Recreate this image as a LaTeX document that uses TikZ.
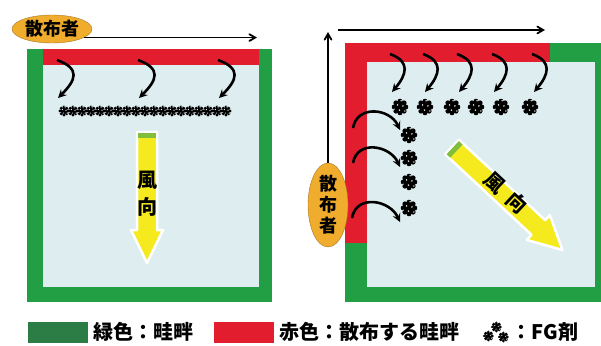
\documentclass[tikz,border=0pt]{standalone}
\usepackage{fontspec}
\setmainfont{Noto Sans CJK JP}
\usetikzlibrary{shapes.geometric, arrows, positioning}

\definecolor{bgreen}{RGB}{34,158,68}
\definecolor{lgreen}{RGB}{44,124,70}
\definecolor{bred}{RGB}{226,30,46}
\definecolor{field}{RGB}{222,238,240}
\definecolor{spray}{RGB}{240,172,45}
\definecolor{wind}{RGB}{244,234,30}
\definecolor{windtail}{RGB}{128,190,60}

\tikzstyle{sprayer} = [ellipse, draw=spray!70!black, fill=spray, font=\bfseries\fontsize{18}{21}\selectfont, inner sep=0pt]
\tikzstyle{walk} = [line width=1.8pt, ->, >=angle 60]
\tikzstyle{drift} = [line width=2.6pt, ->, >=stealth]
\tikzstyle{windarrow} = [fill=wind, draw=white, line width=2.5pt, line join=round]
\tikzstyle{windtext} = [font=\bfseries\fontsize{20}{27}\selectfont, inner sep=0pt, align=center]
\tikzstyle{legendbox} = [rectangle, minimum width=60pt, minimum height=21pt, inner sep=0pt]
\tikzstyle{legendtext} = [font=\bfseries\fontsize{20}{22}\selectfont, inner sep=0pt]

\tikzset{fg/.pic={
  \fill (0,0) circle (4.5pt);
  \foreach \a in {0,45,...,315} \fill (\a:5.5pt) circle (2.4pt);
  \foreach \a in {20,140,260} \fill[white] (\a:3pt) circle (0.8pt);
  \foreach \a in {80,200,320} \fill[white] (\a:6pt) circle (0.7pt);
}}

\begin{document}
\begin{tikzpicture}[x=1pt, y=-1pt]
\useasboundingbox (0,0) rectangle (601,345);

% Left field: red edge on top
\fill[bgreen] (27,49) rectangle (272,302);
\fill[field] (43,65) rectangle (259,287);
\fill[bred] (43,49) rectangle (259,65);

% Right field: red edge on top and left
\fill[bgreen] (345,43) rectangle (601,302);
\fill[field] (367,62) rectangle (595,287);
\fill[bred] (345,43) rectangle (550,62);
\fill[bred] (345,43) rectangle (367,243);

% Sprayers and walking direction
\node (sprayL) [sprayer, minimum width=80pt, minimum height=28pt] at (52,29) {散布者};
\node (sprayR) [sprayer, minimum width=40pt, minimum height=84pt, align=center] at (328,205) {散\\布\\者};
\coordinate (walkL) at (257,37);
\coordinate (corner) at (328,32);
\coordinate (turn) at (338,30);
\coordinate (walkR) at (545,30);
\draw[walk] (sprayL.-15) -- (sprayL.-15 -| walkL);
\draw[walk] (sprayR.north) -- (corner);
\draw[walk] (turn) -- (walkR);

% FG agent
\foreach \x in {64,73,...,230}
  \pic[scale=0.7] at (\x,111) {fg};
\foreach \x in {400,425,452,476,501,530}
  \pic[scale=1.05] at (\x,107) {fg};
\foreach \y in {135,158,182,208}
  \pic[scale=1.05] at (409,\y) {fg};

% Drift of the agent
\foreach \x in {57,138,218}
  \draw[drift] (\x,60) to[out=-20, in=45, looseness=1.7] (\x+1,98);
\foreach \x in {390,423,457,492,532}
  \draw[drift] (\x,54) to[out=-20, in=50, looseness=1.5] (\x+2,92);
\draw[drift] (353,128) to[out=80, in=115, looseness=1.3] (400,130);
\draw[drift] (353,163) to[out=80, in=115, looseness=1.3] (400,167);
\draw[drift] (352,218) to[out=80, in=115, looseness=1.3] (400,222);

% Wind direction
\draw[windarrow] (137,132) -- (157,132) -- (157,230) -- (163,230) -- (147,263) -- (131,230) -- (137,230) -- cycle;
\fill[windtail] (138,133) rectangle (156,138);
\node (windL) [windtext] at (147,194) {風\\向};
\begin{scope}[shift={(452,147)}, rotate=-43]
\draw[windarrow] (0,-10) -- (118,-10) -- (118,-17) -- (151,0) -- (118,17) -- (118,10) -- (0,10) -- cycle;
\fill[windtail] (1,-9) rectangle (6,9);
\end{scope}
\node (windR) [windtext, rotate=-43] at (506,193) {風\hspace{10pt}向};

% Legend
\node (greenkey) [legendbox, fill=lgreen] at (58,332) {};
\node (greenlabel) [legendtext, right=5pt of greenkey] {緑色：畦畔};
\node (redkey) [legendbox, fill=bred, right=20pt of greenlabel] {};
\node (redlabel) [legendtext, right=5pt of redkey] {赤色：散布する畦畔};
\coordinate[right=36pt of redlabel] (fgkey);
\pic[scale=0.7] at ([xshift=-7pt, yshift=-4pt]fgkey) {fg};
\pic[scale=0.7] at ([xshift=8pt, yshift=-5pt]fgkey) {fg};
\pic[scale=0.7] at ([xshift=1pt, yshift=5pt]fgkey) {fg};
\node (fglabel) [legendtext, right=16pt of fgkey] {：FG剤};

\end{tikzpicture}
\end{document}
